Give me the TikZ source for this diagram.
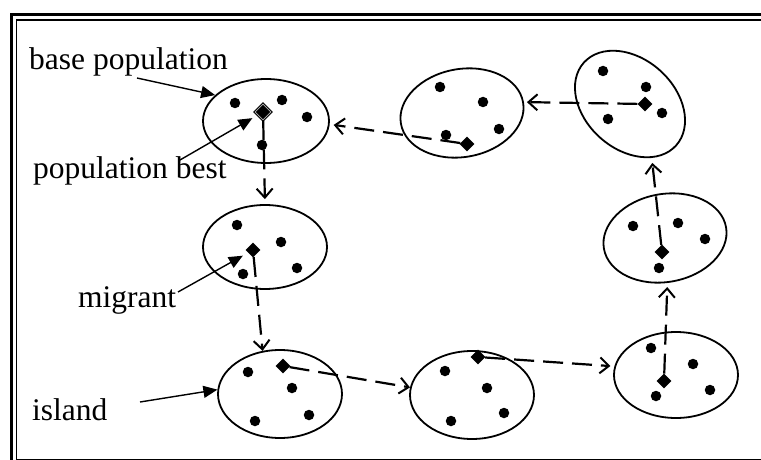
\documentclass[tikz,border=0pt]{standalone}
\usepackage{fontspec}
\setmainfont{Liberation Serif}
\usetikzlibrary{shapes.geometric,arrows.meta}
\begin{document}
\begin{tikzpicture}[x=1pt,y=-1pt,
  isle/.style={ellipse, draw, line width=1.8pt, inner sep=0pt, minimum width=124pt},
  dot/.style={circle, fill=black, inner sep=0pt, minimum size=10.5pt},
  best/.style={diamond, fill=black, inner sep=0pt, minimum size=15pt},
  mig/.style={line width=2.2pt, dash pattern=on 20pt off 9pt,
    -{Straight Barb[length=9pt,width=16pt,line width=2pt]}},
  lbl/.style={font=\fontsize{31.5}{35}\selectfont, anchor=base west, inner sep=0pt},
  pointer/.style={line width=1.4pt, -{Triangle[length=14pt,width=12pt]}}]
\useasboundingbox (0,0) rectangle (761,460);
\clip (0,0) rectangle (761,460);
% frame
\draw[line width=3pt] (11,14.5) rectangle (800,500);
\draw[line width=1.5pt] (16.5,20) rectangle (790,459.3);
% islands
\node[isle, minimum width=126pt, minimum height=84pt] (e1) at (266,121) {};
\node[isle, minimum height=84pt] (e2) at (265,247) {};
\node[isle, minimum height=88pt] (e3) at (280,394) {};
\node[isle, minimum height=88pt] (e4) at (472,395) {};
\node[isle, minimum height=86pt] (e5) at (676,375) {};
\node[isle, minimum height=88pt, rotate=10] (e6) at (665,238) {};
\node[isle, minimum height=90pt, rotate=-42] (e7) at (630,104) {};
\node[isle, minimum height=88pt, rotate=10] (e8) at (462,113) {};
% individuals
\foreach \n/\p in {1a/{235,103},1b/{282,100},1c/{307,117},1d/{262,145},
  2a/{237,225},2b/{281,242},2c/{297,268},2d/{243,274},
  3a/{248,372},3b/{292,388},3c/{309,415},3d/{255,421},
  4a/{445,371},4b/{487,388},4c/{504,413},4d/{451,421},
  5a/{651,348},5b/{693,364},5c/{710,390},5d/{656,396},
  6a/{633,226},6b/{678,223},6c/{705,239},6d/{659,268},
  7a/{603,71},7b/{646,87},7c/{662,113},7d/{608,119},
  8a/{440,87},8b/{483,102},8c/{499,129},8d/{446,135}}
  \node[dot] (p\n) at (\p) {};
% best individuals
\node[diamond, draw, fill=black, double=gray!60, double distance=0.7pt,
  line width=1.1pt, inner sep=0pt, minimum size=16pt] (d1) at (263,112) {};
\node[best] (d2) at (253,250) {};
\node[best] (d3) at (283,366) {};
\node[best] (d4) at (478,357) {};
\node[best] (d5) at (664,381) {};
\node[best] (d6) at (662,252) {};
\node[best] (d7) at (645,104) {};
\node[best] (d8) at (467,144) {};
% migration ring
\draw[mig, shorten >=5pt] (d1) -- (e2.north);
\draw[mig] (d2) -- (e3.112);
\draw[mig] (d3) -- (e4.173);
\draw[mig, shorten >=4pt] (d4) -- (e5.172);
\draw[mig, shorten >=4pt] (d5) -- (e6.263);
\draw[mig, shorten >=5pt] (d6) -- (e7.334);
\draw[mig, shorten >=3pt] (d7) -- (e8.east);
\draw[mig, shorten >=4pt] (d8) -- (e1.357);
% labels
\node[lbl] (lbase) at (29,69.3) {base population};
\node[lbl] (lbest) at (33,178.3) {population best};
\node[lbl] (lmig) at (78,307) {migrant};
\node[lbl] (lisl) at (32,420.7) {island};
\coordinate (bpS) at (137,78);
\coordinate (pbS) at (180,160);
\coordinate (mgS) at (178,292);
\coordinate (isS) at (140,402);
\draw[pointer] (bpS) -- (e1.153);
\draw[pointer, shorten >=6pt] (pbS) -- (d1);
\draw[pointer, shorten >=6pt] (mgS) -- (d2);
\draw[pointer] (isS) -- (e3.176);
\end{tikzpicture}
\end{document}
